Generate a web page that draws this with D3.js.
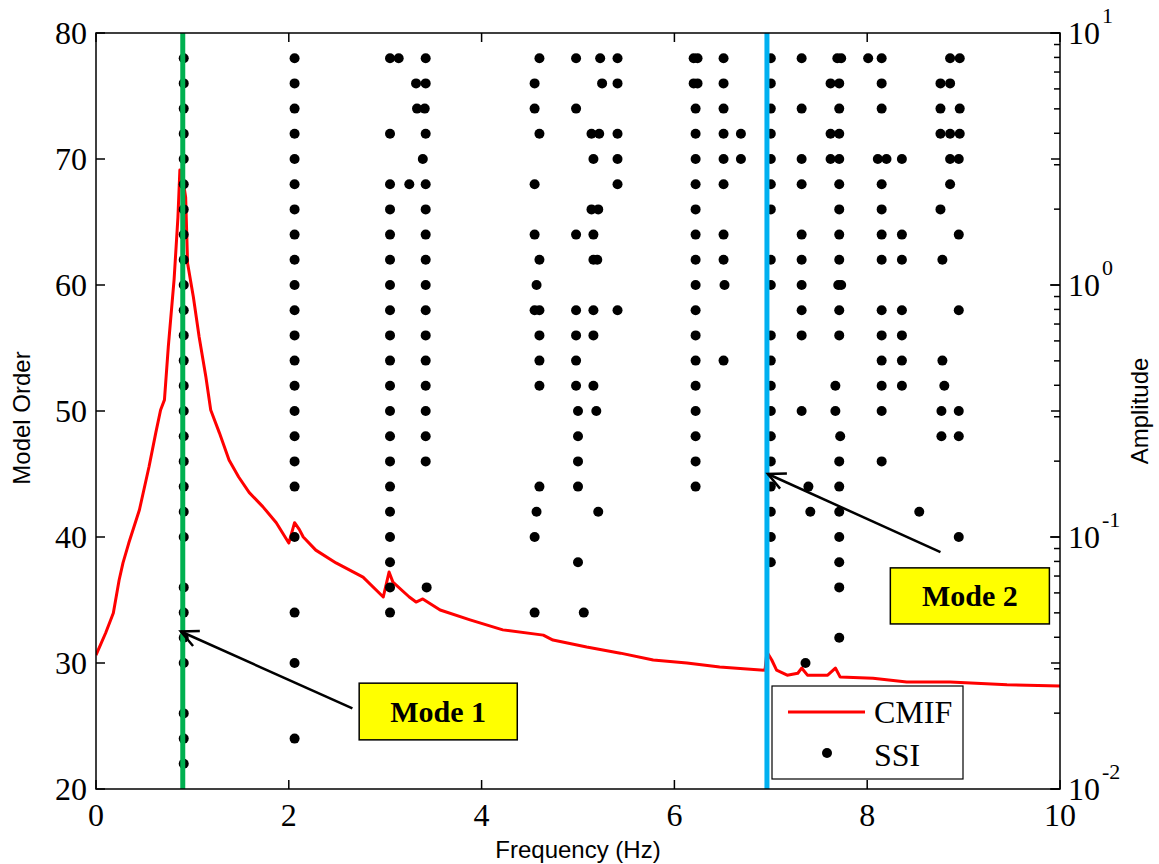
<!DOCTYPE html>
<html>
<head>
<meta charset="utf-8">
<script src="https://cdn.jsdelivr.net/npm/d3@7"></script>
<style>
  html, body { margin: 0; padding: 0; background: #fff; }
  svg { display: block; }
</style>
</head>
<body>
<svg id="chart" width="1159" height="864"></svg>
<script>
// ---------------- DATA ----------------
const xTicks = [0, 2, 4, 6, 8, 10];
const yTicks = [20, 30, 40, 50, 60, 70, 80];
const ampTicks = [10, 1, 0.1, 0.01];
const ampTickExp = ["1", "0", "-1", "-2"];

// CMIF curve (frequency Hz, amplitude)
const cmifFreq = [0.00, 0.10, 0.18, 0.24, 0.28, 0.34, 0.45, 0.55, 0.62, 0.67, 0.71, 0.75, 0.81, 0.85, 0.87, 0.89,
  0.93, 0.95, 1.01, 1.07, 1.14, 1.19, 1.28, 1.38, 1.48, 1.59, 1.73, 1.87, 2.00, 2.06, 2.11, 2.15, 2.28, 2.49, 2.77,
  2.98, 3.04, 3.08, 3.25, 3.32, 3.39, 3.57, 3.88, 4.22, 4.64, 4.74, 5.09, 5.44, 5.78, 6.13, 6.47, 6.94, 6.96, 7.01,
  7.06, 7.17, 7.28, 7.32, 7.38, 7.59, 7.67, 7.72, 8.06, 8.41, 8.86, 9.45, 10.0];
const cmifAmp = [0.0340, 0.0416, 0.0499, 0.0675, 0.0789, 0.0946, 0.128, 0.190, 0.259, 0.319, 0.350, 0.568, 1.05, 1.86, 2.86, 2.80,
  2.23, 1.22, 0.896, 0.622, 0.431, 0.319, 0.259, 0.202, 0.173, 0.150, 0.132, 0.114, 0.0946, 0.114, 0.107, 0.100, 0.0887, 0.0789, 0.0693,
  0.0578, 0.0726, 0.0662, 0.0578, 0.0552, 0.0568, 0.0513, 0.0469, 0.0428, 0.0408, 0.0390, 0.0366, 0.0346, 0.0325, 0.0316, 0.0305, 0.0296, 0.0350, 0.0325,
  0.0296, 0.0283, 0.0288, 0.0302, 0.0283, 0.0283, 0.0302, 0.0278, 0.0275, 0.0266, 0.0266, 0.0259, 0.0256];

// SSI stabilization poles: model orders and the frequencies found at each order
const ssiOrders = [78, 76, 74, 72, 70, 68, 66, 64, 62, 60, 58, 56, 54, 52, 50, 48, 46, 44, 42, 40, 38, 36, 34, 32, 30, 26, 24, 22];
const ssiFreqs = [
  [0.91, 2.06, 3.05, 3.14, 3.42, 4.60, 4.98, 5.23, 5.41, 6.20, 6.24, 6.51, 7.00, 7.32, 7.69, 7.73, 8.01, 8.15, 8.86, 8.96],
  [0.91, 2.06, 3.32, 3.42, 4.55, 5.25, 5.41, 6.20, 6.24, 6.51, 7.00, 7.62, 7.71, 8.15, 8.76, 8.86],
  [0.91, 2.06, 3.33, 3.41, 4.55, 4.98, 6.22, 6.51, 7.00, 7.32, 7.71, 8.15, 8.76, 8.96],
  [0.91, 2.06, 3.05, 3.42, 4.60, 5.14, 5.22, 5.41, 6.22, 6.51, 6.69, 7.00, 7.62, 7.71, 8.76, 8.86, 8.96],
  [0.91, 2.06, 3.39, 5.16, 5.41, 6.22, 6.51, 6.69, 7.00, 7.32, 7.62, 7.71, 8.11, 8.20, 8.36, 8.86, 8.95],
  [0.91, 2.06, 3.05, 3.25, 3.42, 4.55, 5.41, 6.22, 6.51, 7.00, 7.32, 7.71, 8.15, 8.86],
  [0.91, 2.06, 3.05, 3.42, 5.14, 5.21, 6.22, 7.00, 7.71, 8.15, 8.76],
  [0.91, 2.06, 3.05, 3.42, 4.55, 4.98, 5.16, 6.22, 6.51, 7.32, 7.71, 8.15, 8.36, 8.95],
  [0.91, 2.06, 3.05, 3.42, 4.60, 5.16, 5.20, 6.22, 6.51, 7.00, 7.32, 7.71, 8.15, 8.36, 8.78],
  [0.91, 2.06, 3.05, 3.42, 4.57, 6.22, 6.52, 7.00, 7.32, 7.70, 7.73],
  [0.91, 2.06, 3.05, 3.42, 4.55, 4.60, 4.98, 5.16, 5.41, 6.22, 7.32, 7.71, 8.15, 8.36, 8.95],
  [0.91, 2.06, 3.05, 3.42, 4.60, 4.98, 5.16, 6.22, 7.00, 7.32, 7.71, 8.15, 8.36],
  [0.91, 2.06, 3.05, 3.42, 4.60, 4.98, 6.22, 6.51, 7.00, 8.15, 8.36, 8.78],
  [0.91, 2.06, 3.05, 3.42, 4.60, 4.98, 5.16, 6.22, 7.00, 7.67, 8.15, 8.36, 8.80],
  [0.91, 2.06, 3.05, 3.42, 5.00, 5.19, 6.22, 7.00, 7.32, 7.67, 8.15, 8.77, 8.95],
  [0.91, 2.06, 3.05, 3.42, 5.00, 6.22, 7.00, 7.72, 8.77, 8.95],
  [0.91, 2.06, 3.05, 3.42, 5.00, 6.22, 7.00, 7.71, 8.15],
  [0.91, 2.06, 3.05, 4.60, 5.00, 6.22, 7.00, 7.39, 7.71],
  [0.91, 3.05, 4.57, 5.21, 7.00, 7.41, 7.71, 8.54],
  [0.91, 2.06, 3.05, 4.55, 7.00, 7.71, 8.95],
  [3.05, 5.00, 7.00, 7.71],
  [0.91, 3.05, 3.43, 7.71],
  [0.91, 2.06, 3.05, 4.55, 5.06],
  [0.91, 7.71],
  [0.91, 2.06, 7.36],
  [0.91],
  [0.91, 2.06],
  [0.91]
];

// Identified modes (vertical markers)
const modeFreqs = [0.90, 6.96];
const modeColors = ["#00b050", "#00b0f0"];
const modeLabels = ["Mode 1", "Mode 2"];

// ---------------- CHART ----------------
const svg = d3.select("#chart");
const L = 96, R = 1060, T = 33, B = 789;
const x = d3.scaleLinear().domain([0, 10]).range([L, R]);
const y = d3.scaleLinear().domain([20, 80]).range([B, T]);
const a = d3.scaleLog().domain([0.01, 10]).range([B, T]);

const serif = "'Liberation Serif', 'Times New Roman', serif";
const sans = "'Liberation Sans', Arial, sans-serif";

svg.append("defs").append("clipPath").attr("id", "plotclip")
  .append("rect").attr("x", L).attr("y", T).attr("width", R - L).attr("height", B - T);

const plot = svg.append("g").attr("clip-path", "url(#plotclip)");

// CMIF curve
const cmifData = cmifFreq.map((f, i) => [f, cmifAmp[i]]);
plot.append("path")
  .datum(cmifData)
  .attr("fill", "none")
  .attr("stroke", "#ff0000")
  .attr("stroke-width", 3)
  .attr("stroke-linejoin", "round")
  .attr("d", d3.line().x(d => x(d[0])).y(d => a(d[1])));

// SSI points
const ssiData = [];
ssiOrders.forEach((o, i) => ssiFreqs[i].forEach(f => ssiData.push([f, o])));
plot.selectAll("circle.ssi").data(ssiData).enter().append("circle")
  .attr("class", "ssi")
  .attr("cx", d => x(d[0])).attr("cy", d => y(d[1]))
  .attr("r", 5).attr("fill", "#000");

// Mode lines
modeFreqs.forEach((f, i) => {
  plot.append("line")
    .attr("x1", x(f)).attr("x2", x(f)).attr("y1", T).attr("y2", B)
    .attr("stroke", modeColors[i]).attr("stroke-width", 5);
});

// Axes frame
const axesG = svg.append("g");
axesG.append("rect").attr("x", L).attr("y", T).attr("width", R - L).attr("height", B - T)
  .attr("fill", "none").attr("stroke", "#000").attr("stroke-width", 1.5);

// Left y ticks (linear) mirrored on right
yTicks.forEach(v => {
  const yy = y(v);
  axesG.append("line").attr("x1", L).attr("x2", L + 9).attr("y1", yy).attr("y2", yy).attr("stroke", "#000").attr("stroke-width", 1.5);
  axesG.append("line").attr("x1", R).attr("x2", R - 9).attr("y1", yy).attr("y2", yy).attr("stroke", "#000").attr("stroke-width", 1.5);
  axesG.append("text").attr("x", 87).attr("y", yy).attr("dy", "0.35em")
    .attr("text-anchor", "end").attr("font-family", serif).attr("font-size", 32).text(v);
});

// x ticks
xTicks.forEach(v => {
  const xx = x(v);
  axesG.append("line").attr("x1", xx).attr("x2", xx).attr("y1", B).attr("y2", B - 9).attr("stroke", "#000").attr("stroke-width", 1.5);
  axesG.append("line").attr("x1", xx).attr("x2", xx).attr("y1", T).attr("y2", T + 9).attr("stroke", "#000").attr("stroke-width", 1.5);
  axesG.append("text").attr("x", xx).attr("y", 826)
    .attr("text-anchor", "middle").attr("font-family", serif).attr("font-size", 32).text(v);
});

// Right log ticks
ampTicks.forEach((v, i) => {
  const yy = a(v);
  axesG.append("line").attr("x1", R).attr("x2", R - 10).attr("y1", yy).attr("y2", yy).attr("stroke", "#000").attr("stroke-width", 1.5);
  const t = axesG.append("text").attr("x", 1068).attr("y", yy + 11)
    .attr("font-family", serif).attr("font-size", 32);
  t.append("tspan").text("10");
  t.append("tspan").attr("dy", -21).attr("dx", 2).attr("font-size", 22).text(ampTickExp[i]);
});
[0.01, 0.1, 1].forEach(dec => {
  for (let k = 2; k <= 9; k++) {
    const yy = a(dec * k);
    axesG.append("line").attr("x1", R).attr("x2", R - 6).attr("y1", yy).attr("y2", yy).attr("stroke", "#000").attr("stroke-width", 1.5);
  }
});

// Axis titles
svg.append("text").attr("x", 578).attr("y", 858).attr("text-anchor", "middle")
  .attr("font-family", sans).attr("font-size", 24).text("Frequency (Hz)");
svg.append("text").attr("transform", "translate(30,418) rotate(-90)").attr("text-anchor", "middle")
  .attr("font-family", sans).attr("font-size", 24).text("Model Order");
svg.append("text").attr("transform", "translate(1148,411) rotate(-90)").attr("text-anchor", "middle")
  .attr("font-family", sans).attr("font-size", 24).text("Amplitude");

// Annotations: arrows + yellow boxes
const annotations = [
  { tail: [2.66, 26.4], head: [0.88, 32.5], box: [2.73, 28.4, 4.37, 23.9] },
  { tail: [8.76, 38.8], head: [6.97, 45.0], box: [8.24, 37.55, 9.89, 33.1] }
];
annotations.forEach((an, i) => {
  const x1 = x(an.tail[0]), y1 = y(an.tail[1]), x2 = x(an.head[0]), y2 = y(an.head[1]);
  svg.append("line").attr("x1", x1).attr("y1", y1).attr("x2", x2).attr("y2", y2)
    .attr("stroke", "#000").attr("stroke-width", 2.5);
  const ang = Math.atan2(y1 - y2, x1 - x2);
  const len = 19, spread = 0.45;
  const p1 = [x2 + len * Math.cos(ang - spread), y2 + len * Math.sin(ang - spread)];
  const p2 = [x2 + len * Math.cos(ang + spread), y2 + len * Math.sin(ang + spread)];
  svg.append("path").attr("d", `M${p1[0]},${p1[1]} L${x2},${y2} L${p2[0]},${p2[1]}`)
    .attr("fill", "none").attr("stroke", "#000").attr("stroke-width", 2.5);
  const bx0 = x(an.box[0]), by0 = y(an.box[1]), bx1 = x(an.box[2]), by1 = y(an.box[3]);
  svg.append("rect").attr("x", bx0).attr("y", by0).attr("width", bx1 - bx0).attr("height", by1 - by0)
    .attr("fill", "#ffff00").attr("stroke", "#000").attr("stroke-width", 1.5);
  svg.append("text").attr("x", (bx0 + bx1) / 2).attr("y", (by0 + by1) / 2).attr("dy", "0.35em")
    .attr("text-anchor", "middle").attr("font-family", serif).attr("font-weight", "bold")
    .attr("font-size", 30).text(modeLabels[i]);
});

// Legend
const lg = svg.append("g");
lg.append("rect").attr("x", 772).attr("y", 686).attr("width", 191).attr("height", 93)
  .attr("fill", "#fff").attr("stroke", "#000").attr("stroke-width", 1.2);
lg.append("line").attr("x1", 788).attr("x2", 865).attr("y1", 712).attr("y2", 712)
  .attr("stroke", "#ff0000").attr("stroke-width", 3);
lg.append("text").attr("x", 874).attr("y", 723).attr("font-family", serif).attr("font-size", 32).text("CMIF");
lg.append("circle").attr("cx", 827).attr("cy", 753).attr("r", 5).attr("fill", "#000");
lg.append("text").attr("x", 874).attr("y", 766).attr("font-family", serif).attr("font-size", 32).text("SSI");
</script>
</body>
</html>
